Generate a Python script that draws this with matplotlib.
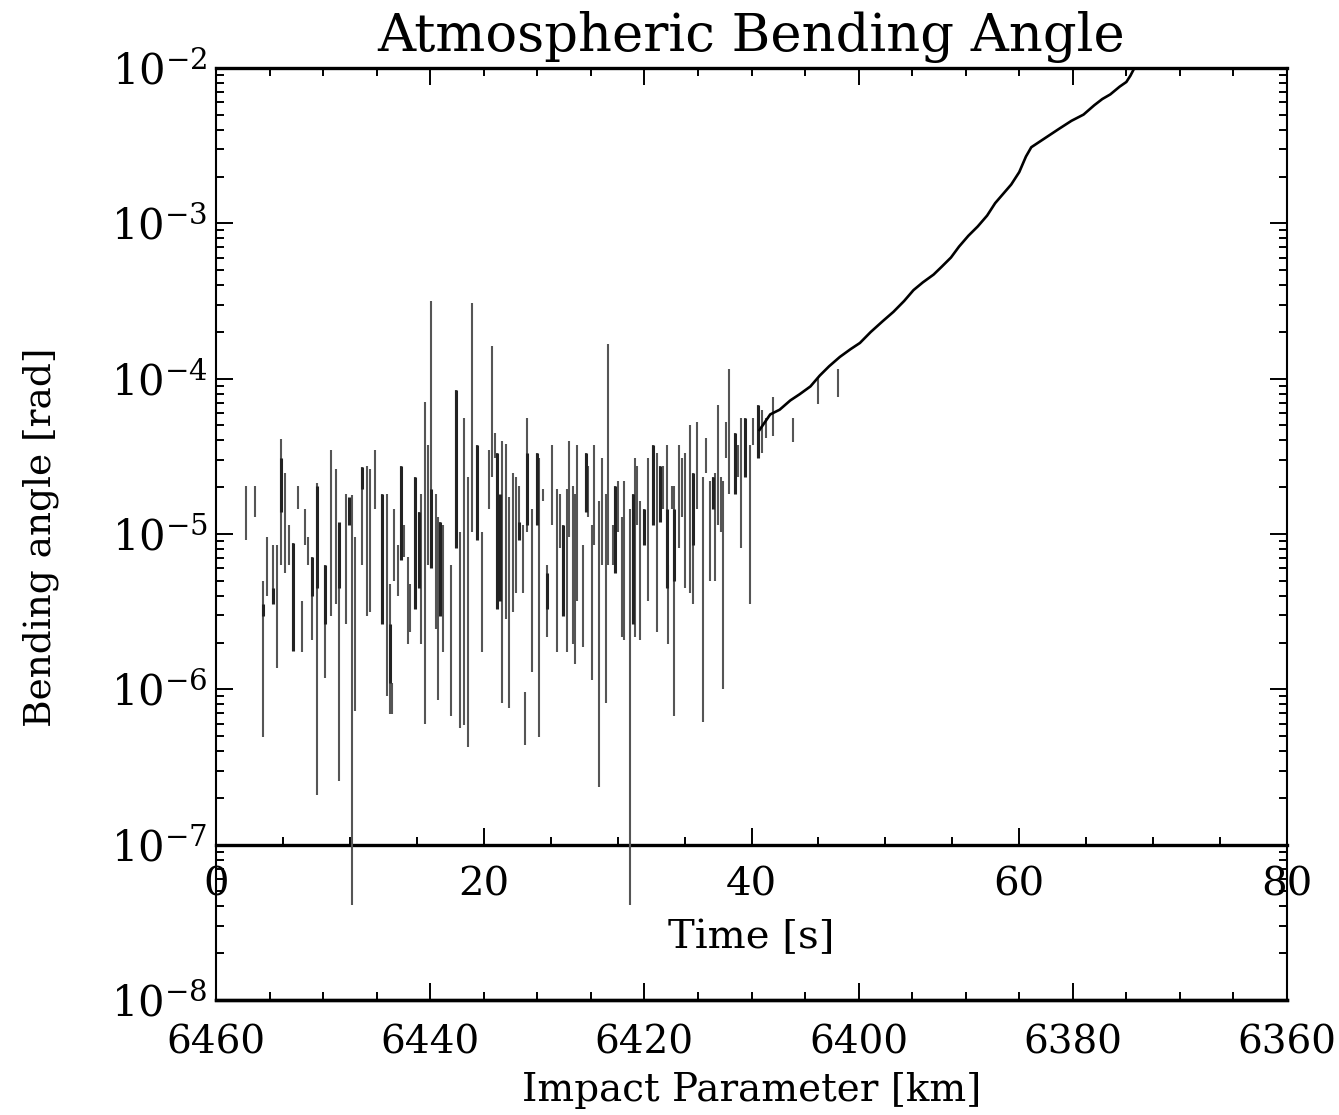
#!/usr/bin/env python

import numpy as np
import matplotlib
matplotlib.use('Agg')
import matplotlib.pyplot as plt
from matplotlib.ticker import FixedLocator, LogLocator, LogFormatterMathtext, NullFormatter

plt.rc("font", family="DejaVu Serif", size=28)
plt.rc("mathtext", fontset="dejavuserif")

# noisy part: vertical excursions, time [s] and log10 of bending angle [rad]
stroke_t = [2.24, 2.91, 3.53, 3.83, 4.28, 4.58, 4.83, 5.15, 5.48, 5.73, 6.15, 6.40, 6.65,
            6.90, 7.14, 7.52, 8.14, 8.56, 8.96, 9.21, 9.71, 10.13, 10.38, 10.88, 11.25,
            11.50, 11.87, 12.37, 12.74, 12.99, 13.17, 13.32, 13.62, 13.82, 14.06, 14.31,
            14.49, 14.86, 15.16, 15.30, 15.61, 15.81, 16.05, 16.40, 16.55, 16.73, 16.98,
            17.55, 17.90, 18.22, 18.55, 18.84, 19.14, 19.46, 19.84, 20.40, 20.59, 20.85,
            21.00, 21.38, 21.66, 21.91, 22.16, 22.41, 22.65, 22.90, 23.08, 23.25, 23.58,
            23.95, 24.15, 24.40, 24.69, 25.07, 25.44, 25.69, 25.89, 26.19, 26.39, 26.64,
            26.81, 26.99, 27.38, 27.63, 27.80, 28.06, 28.23, 28.63, 28.80, 29.12, 29.30,
            29.63, 29.80, 30.05, 30.30, 30.47, 30.92, 31.17, 31.29, 31.42, 31.67, 31.99,
            32.24, 32.66, 32.91, 33.16, 33.41, 33.66, 33.78, 34.03, 34.23, 34.58, 34.83,
            35.03, 35.40, 35.65, 35.90, 36.40, 36.57, 36.90, 37.14, 37.31, 37.47, 37.71,
            37.89, 38.06, 38.31, 38.76, 39.01, 39.21, 39.51, 39.88, 40.13, 40.45, 40.75,
            41.12, 41.60, 43.10, 44.96, 46.45]
stroke_lo = [-5.04, -4.89, -6.31, -5.40, -5.45, -5.86, -5.20, -5.25, -5.20, -5.75, -4.84, -5.76, -5.07,
             -5.20, -5.68, -6.68, -5.93, -5.53, -5.45, -6.59, -5.58, -7.39, -6.14, -5.20, -5.53,
             -5.50, -4.84, -5.58, -6.04, -6.16, -6.16, -5.30, -5.40, -5.17, -5.15, -5.71,
             -5.63, -5.48, -5.35, -5.71, -6.22, -5.20, -5.22, -5.61, -6.07, -5.53, -5.76,
             -6.17, -5.09, -6.25, -6.23, -6.37, -4.99, -5.04, -5.76, -4.84, -4.63, -4.51,
             -5.48, -6.09, -5.55, -6.12, -5.50, -5.38, -5.04, -5.38, -6.36, -4.99, -5.89,
             -4.94, -6.31, -4.79, -5.66, -4.94, -5.76, -5.09, -5.53, -5.76, -5.02, -5.71,
             -5.84, -5.43, -5.73, -4.86, -4.89, -5.94, -5.07, -6.63, -5.20, -6.09, -5.20,
             -5.20, -5.25, -4.99, -5.66, -5.68, -7.39, -5.58, -5.66, -4.94, -5.68, -5.07,
             -5.43, -4.94, -5.63, -4.92, -4.84, -5.35, -5.71, -4.84, -6.17, -5.09, -4.89,
             -5.35, -5.38, -5.45, -4.84, -6.21, -4.61, -5.30, -4.84, -5.30, -4.94, -4.99,
             -6.00, -4.51, -4.74, -4.74, -4.63, -5.09, -4.63, -5.45, -4.43, -4.51, -4.48,
             -4.38, -4.37, -4.41, -4.16, -4.12]
stroke_hi = [-4.69, -4.69, -5.30, -5.02, -5.07, -5.07, -4.39, -4.61, -4.94, -5.06, -4.69, -5.43, -4.84,
             -5.02, -5.15, -4.67, -5.20, -4.46, -4.58, -4.94, -4.74, -4.75, -5.02, -4.57, -4.56,
             -4.58, -4.46, -4.74, -4.74, -5.32, -5.96, -4.84, -5.07, -4.56, -4.94, -5.15,
             -5.32, -4.63, -4.86, -4.74, -4.15, -4.43, -3.50, -4.74, -4.89, -4.92, -4.94,
             -5.20, -4.07, -4.99, -4.25, -4.63, -3.51, -4.43, -4.99, -4.46, -3.79, -4.35,
             -4.48, -4.40, -4.42, -4.76, -4.61, -4.63, -4.69, -4.94, -6.02, -4.25, -4.84,
             -4.48, -4.51, -4.71, -5.20, -4.43, -4.71, -4.74, -4.94, -4.71, -4.40, -4.69,
             -4.74, -4.43, -5.07, -4.48, -4.56, -4.94, -4.43, -4.79, -4.51, -4.74, -3.78,
             -4.94, -4.69, -4.66, -4.89, -4.66, -4.84, -4.74, -4.51, -4.56, -4.79, -4.84,
             -4.51, -4.43, -4.48, -4.56, -4.56, -4.43, -5.20, -4.69, -4.69, -4.43, -4.51,
             -4.48, -4.30, -4.61, -4.28, -4.63, -4.38, -4.66, -4.63, -4.61, -4.17, -4.63,
             -4.66, -4.28, -3.94, -4.35, -4.43, -4.25, -4.25, -4.43, -4.25, -4.17, -4.20,
             -4.25, -4.12, -4.25, -3.99, -3.94]

# darker (overplotted) parts of the strokes
core_t = [3.50, 4.28, 4.83, 5.73, 7.14, 7.52, 8.14, 9.21, 9.95, 10.88, 12.37, 12.99, 13.82,
          14.86, 15.16, 16.05, 16.73, 17.90, 19.46, 21.00, 21.21, 22.65, 23.25, 23.95, 24.69,
          25.89, 27.63, 29.80, 31.17, 31.99, 32.66, 33.16, 33.66, 34.23, 35.65, 37.14, 38.76,
          39.51, 40.45]
core_lo = [-5.53, -5.45, -4.86, -5.75, -5.40, -5.35, -5.58, -5.35, -4.94, -4.71, -5.58, -5.96, -5.17,
           -5.48, -5.35, -5.22, -5.53, -5.09, -5.04, -5.48, -5.43, -5.04, -4.94, -4.94, -5.48,
           -5.53, -4.86, -5.25, -5.58, -5.07, -4.94, -4.92, -5.35, -5.30, -5.07, -4.84, -4.74,
           -4.63, -4.51]
core_hi = [-5.45, -5.35, -4.51, -5.06, -5.15, -4.69, -5.20, -4.92, -4.76, -4.57, -4.74, -5.58, -4.56,
           -4.63, -4.86, -4.71, -4.92, -4.07, -4.43, -4.48, -4.74, -4.92, -4.48, -4.48, -5.25,
           -4.94, -4.48, -4.69, -4.74, -4.84, -4.43, -4.56, -4.84, -4.84, -4.61, -4.63, -4.35,
           -4.25, -4.17]

# smooth part of the profile
curve_t = [40.6, 41.4, 42.1, 42.9, 43.6, 44.4, 45.1, 45.8, 46.6, 47.4, 48.1, 48.9, 49.8, 50.6,
           51.4, 52.1, 52.8, 53.6, 54.2, 54.9, 55.5, 56.2, 56.9, 57.6, 58.2, 58.8, 59.4, 60.0,
           60.5, 60.9, 61.6, 62.3, 63.0, 63.9, 64.8, 65.6, 66.2, 66.8, 67.5, 68.0, 68.3, 68.6]
curve_log = [-4.33, -4.23, -4.20, -4.14, -4.10, -4.05, -3.98, -3.92, -3.86, -3.81, -3.77, -3.70, -3.63, -3.57,
             -3.50, -3.43, -3.38, -3.33, -3.28, -3.22, -3.15, -3.08, -3.02, -2.95, -2.87, -2.81, -2.75, -2.67,
             -2.57, -2.51, -2.47, -2.43, -2.39, -2.34, -2.30, -2.24, -2.20, -2.17, -2.12, -2.09, -2.05, -2.00]

impact_ticks = [6460, 6440, 6420, 6400, 6380, 6360]
time_ticks = [0, 20, 40, 60, 80]
impact_start = 6460.0   # km at t = 0
km_per_s = 1.25         # 100 km over 80 s

W, H = 1339, 1115
fig = plt.figure(figsize=(W / 100, H / 100), dpi=100)
ax = fig.add_axes([216 / W, 1 - 1000 / H, (1287 - 216) / W, (1000 - 68) / H])

ax.vlines(stroke_t, np.power(10.0, stroke_lo), np.power(10.0, stroke_hi), colors="#555555", lw=1.5)
ax.vlines(core_t, np.power(10.0, core_lo), np.power(10.0, core_hi), colors="#222222", lw=2.2)
ax.plot(curve_t, np.power(10.0, curve_log), color="k", lw=1.9)

ax.set_yscale("log")
ax.set_xlim(0, 80)
ax.set_ylim(1e-8, 1e-2)

# y axis, ticks on both sides
ax.yaxis.set_major_locator(LogLocator(base=10, numticks=10))
ax.yaxis.set_minor_locator(LogLocator(base=10, subs=np.arange(2, 10), numticks=100))
ax.yaxis.set_major_formatter(LogFormatterMathtext())
ax.yaxis.set_minor_formatter(NullFormatter())
ax.tick_params(axis="y", which="both", direction="in", left=True, right=True, width=1.4, labelsize=30, pad=6)
ax.tick_params(axis="y", which="major", length=12)
ax.tick_params(axis="y", which="minor", length=6)
ax.set_ylabel("Bending angle [rad]", fontsize=27)
ax.yaxis.set_label_coords(-0.147, 0.497)

# top: impact parameter ticks without labels (every 5 km = 4 s)
ax.xaxis.set_major_locator(FixedLocator(np.arange(0, 81, 16)))
ax.xaxis.set_minor_locator(FixedLocator([t for t in range(4, 80, 4) if t % 16]))
ax.tick_params(axis="x", which="both", direction="in", top=True, bottom=False, labelbottom=False, width=1.4)
ax.tick_params(axis="x", which="major", length=12)
ax.tick_params(axis="x", which="minor", length=6)
ax.xaxis.label.set_visible(False)
ax.set_title("Atmospheric Bending Angle", fontsize=38, pad=12)

for side in ["top", "bottom"]:
    ax.spines[side].set_linewidth(2.4)
for side in ["left", "right"]:
    ax.spines[side].set_linewidth(1.5)

# bottom: impact parameter axis
imp = ax.secondary_xaxis("bottom", functions=(lambda t: impact_start - km_per_s * t,
                                              lambda b: (impact_start - b) / km_per_s))
imp.xaxis.set_major_locator(FixedLocator(impact_ticks))
imp.xaxis.set_minor_locator(FixedLocator([b for b in range(6365, 6460, 5) if b % 20]))
imp.tick_params(axis="x", which="both", direction="in", width=1.4, labelsize=28, pad=18)
imp.tick_params(axis="x", which="major", length=12)
imp.tick_params(axis="x", which="minor", length=6)
imp.spines["bottom"].set_linewidth(2.4)
imp.set_xlabel("Impact Parameter [km]", fontsize=28, labelpad=7)

# time axis drawn across the plot at 1e-7
tax = ax.secondary_xaxis(1 / 6)
tax.xaxis.set_major_locator(FixedLocator(time_ticks))
tax.xaxis.set_minor_locator(FixedLocator([t for t in range(5, 80, 5) if t % 20]))
tax.tick_params(axis="x", which="both", direction="in", width=1.4, labelsize=29, pad=16)
tax.tick_params(axis="x", which="major", length=12)
tax.tick_params(axis="x", which="minor", length=6)
for s in tax.spines.values():
    s.set_linewidth(2.4)
tax.set_xlabel("Time [s]", fontsize=29, labelpad=11)

plt.savefig("out.png", dpi=100)
